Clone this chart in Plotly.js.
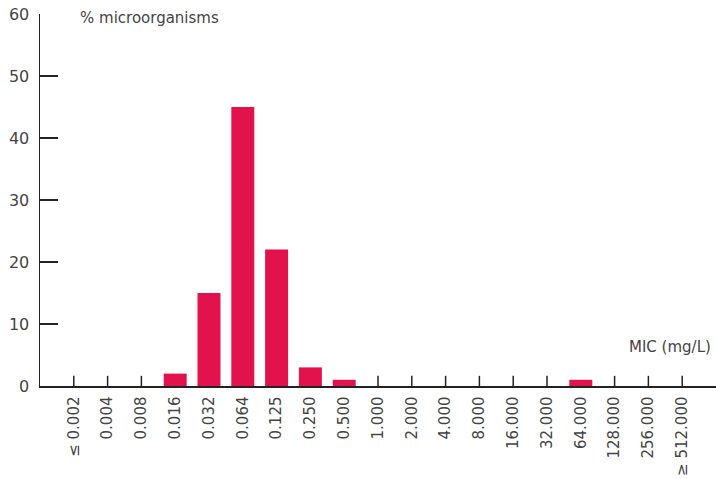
<!DOCTYPE html>
<html>
<head>
<meta charset="utf-8">
<script src="https://cdn.plot.ly/plotly-3.0.1.min.js"></script>
<style>
  body { margin: 0; background: #fff; }
  #chart { width: 716px; height: 479px; }
</style>
</head>
<body>
<div id="chart"></div>
<script>
// MIC classes (mg/L)
const micLabels = ['≤ 0.002', '0.004', '0.008', '0.016', '0.032', '0.064', '0.125', '0.250', '0.500',
    '1.000', '2.000', '4.000', '8.000', '16.000', '32.000', '64.000', '128.000', '256.000', '≥ 512.000'];
// % microorganisms per class
const pctMicro = [0, 0, 0, 2, 15, 45, 22, 3, 1, 0, 0, 0, 0, 0, 0, 1, 0, 0, 0];
const yTicks = [0, 10, 20, 30, 40, 50, 60];

const textFont = {family: 'DejaVu Sans, sans-serif', size: 15, color: '#444'};

// small upright ticks only where a class is empty
const emptyIdx = pctMicro.map((v, i) => i).filter(i => pctMicro[i] === 0);

var traces = [{
    type: 'bar',
    x: micLabels,
    y: pctMicro,
    width: 0.68,
    marker: {color: '#e2134c'},
    hoverinfo: 'x+y'
}, {
    type: 'scatter',
    mode: 'markers',
    x: emptyIdx.map(i => micLabels[i]),
    y: emptyIdx.map(() => 0),
    marker: {symbol: 'line-ns', size: 14.5, color: '#222', line: {color: '#222', width: 1.5}},
    cliponaxis: true,
    hoverinfo: 'skip'
}];

var layout = {
    width: 716,
    height: 479,
    margin: {l: 40, r: 0, t: 14, b: 93, pad: 0},
    paper_bgcolor: '#fff',
    plot_bgcolor: '#fff',
    showlegend: false,
    font: textFont,
    xaxis: {
        type: 'category',
        range: [-1, 19],
        showline: true,
        linecolor: '#222',
        linewidth: 1.5,
        ticks: '',
        tickangle: -90,
        ticklabelstandoff: 3,
        tickfont: textFont,
        showgrid: false,
        zeroline: false,
        fixedrange: true
    },
    yaxis: {
        range: [0, 60],
        tickvals: yTicks,
        showline: true,
        linecolor: '#222',
        linewidth: 1.5,
        ticks: 'inside',
        ticklen: 18,
        tickwidth: 1.5,
        tickcolor: '#222',
        ticklabelstandoff: 6,
        tickfont: Object.assign({}, textFont, {size: 16}),
        showgrid: false,
        zeroline: false,
        fixedrange: true
    },
    annotations: [{
        text: '% microorganisms',
        xref: 'paper', yref: 'paper',
        x: 0.056, y: 0.989,
        xanchor: 'left', yanchor: 'middle',
        showarrow: false,
        font: textFont
    }, {
        text: 'MIC (mg/L)',
        xref: 'paper', yref: 'paper',
        x: 0.996, y: 0.105,
        xanchor: 'right', yanchor: 'middle',
        showarrow: false,
        font: textFont
    }]
};

Plotly.newPlot('chart', traces, layout, {displayModeBar: false, staticPlot: true});
</script>
</body>
</html>
